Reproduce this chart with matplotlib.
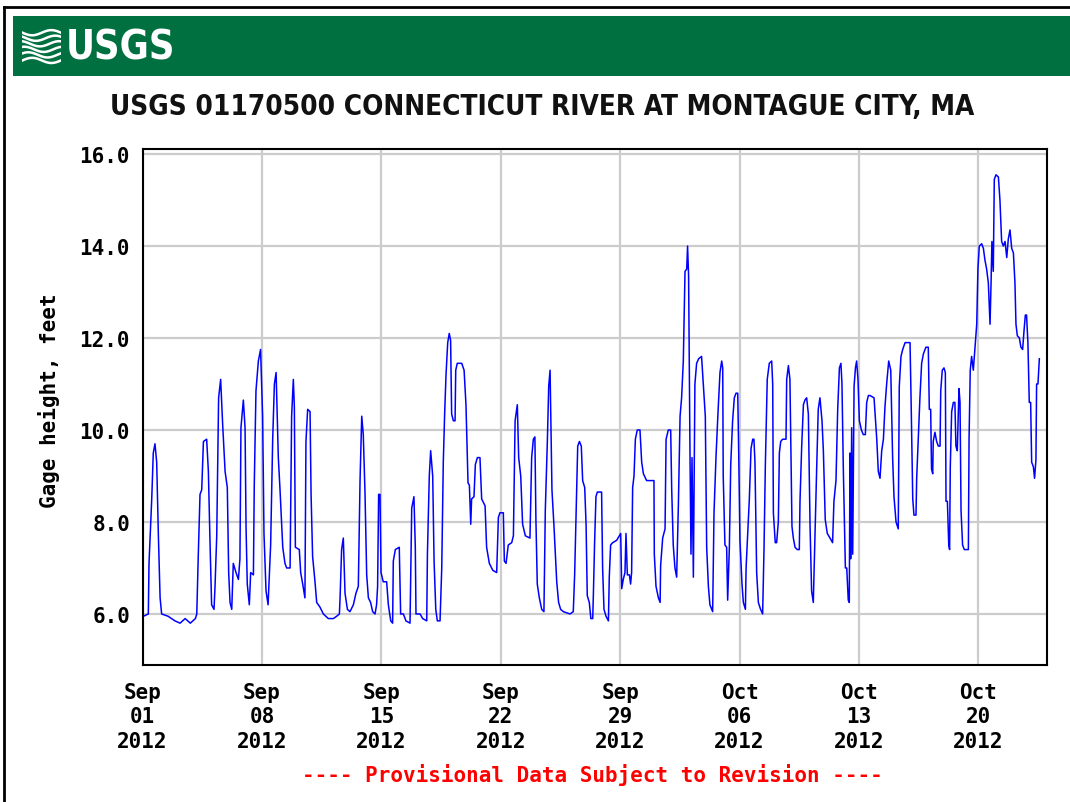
import numpy as np
import pandas as pd
import matplotlib
matplotlib.use("Agg")
import matplotlib.pyplot as plt
from matplotlib import font_manager
from matplotlib.patches import Rectangle
from matplotlib.lines import Line2D

# elapsed days since 2012-09-01 00:00 and gage height (feet)
days = [0.00, 0.05, 0.34, 0.38, 0.54, 0.63, 0.73, 0.83, 0.93, 1.03, 1.12, 1.5, 1.9, 2.2, 2.5, 2.8,
        3.1, 3.18, 3.27, 3.37, 3.47, 3.57, 3.76, 3.86, 3.96, 4.05, 4.19, 4.25, 4.35, 4.46, 4.58,
        4.70, 4.84, 4.97, 5.05, 5.13, 5.23, 5.32, 5.48, 5.62, 5.71, 5.77, 5.91, 6.01, 6.07, 6.14,
        6.26, 6.34, 6.50, 6.55, 6.65, 6.79, 6.92, 7.04, 7.12, 7.24, 7.36, 7.51, 7.63, 7.73, 7.83,
        7.96, 8.06, 8.22, 8.35, 8.45, 8.65,
        8.74, 8.84, 8.90, 8.96, 9.19, 9.27, 9.39, 9.52, 9.58, 9.68, 9.82, 9.88, 9.97, 10.11, 10.21,
        10.40, 10.60, 10.89, 11.19, 11.38, 11.54, 11.58, 11.67, 11.77, 11.87, 12.01, 12.16, 12.36,
        12.51, 12.65, 12.75, 12.85, 12.94, 13.04, 13.14, 13.24, 13.37, 13.49, 13.63, 13.72, 13.78,
        13.84, 13.92, 13.98, 14.11, 14.31, 14.41, 14.55, 14.66, 14.70, 14.82, 15.05, 15.13, 15.29,
        15.44, 15.68, 15.78, 15.91, 15.99, 16.03, 16.27, 16.42, 16.66, 16.70, 16.81, 16.89, 17.01,
        17.09, 17.19, 17.28, 17.44,
        17.54, 17.63, 17.71, 17.79, 17.89, 17.98, 18.06, 18.12, 18.22, 18.32, 18.36, 18.45, 18.71,
        18.85, 18.96, 19.08, 19.16, 19.24, 19.29, 19.43, 19.51, 19.63, 19.78, 19.88, 20.08, 20.17,
        20.33, 20.53, 20.76, 20.86, 20.95, 21.15, 21.21, 21.31, 21.44, 21.64, 21.74, 21.84, 21.97,
        22.05, 22.17, 22.28, 22.44, 22.71, 22.81, 22.91, 23.00, 23.06, 23.14, 23.26, 23.40, 23.53,
        23.61, 23.73, 23.81, 23.89, 24.00, 24.12, 24.28, 24.39, 24.51, 24.67, 25.06, 25.25, 25.33,
        25.41, 25.51, 25.61, 25.72, 25.80, 25.92, 26.00, 26.07, 26.19,
        26.28, 26.39, 26.43, 26.50, 26.58, 26.66, 26.91, 26.97, 27.05, 27.17, 27.31, 27.36, 27.44,
        27.56, 27.79, 27.95, 28.03, 28.09, 28.18, 28.28, 28.34, 28.42, 28.54, 28.61, 28.67, 28.73,
        28.81, 28.89, 29.00, 29.16, 29.26, 29.36, 29.55, 29.71, 29.98, 30.00, 30.10, 30.24, 30.34,
        30.37, 30.49, 30.63, 30.69, 30.82, 30.96, 31.02, 31.11, 31.21, 31.31, 31.41, 31.51, 31.60,
        31.70, 31.80, 31.90, 31.95, 32.01, 32.09, 32.15, 32.21, 32.29, 32.38, 32.48, 32.60, 32.77,
        32.87, 32.99, 33.07, 33.17, 33.26, 33.42, 33.50, 33.62, 33.73, 33.85, 33.95, 34.01, 34.04,
        34.14, 34.24, 34.30, 34.40, 34.48, 34.59, 34.69, 34.79, 34.89, 34.95, 35.02,
        35.14, 35.22, 35.34, 35.38, 35.45, 35.57, 35.67, 35.77, 35.84, 35.90, 36.00, 36.10, 36.23,
        36.35, 36.43, 36.51, 36.62, 36.74, 36.88, 36.94, 36.98, 37.09, 37.17, 37.27, 37.33, 37.41,
        37.52, 37.72, 37.76, 37.86, 37.95, 38.01, 38.07, 38.15, 38.25, 38.38, 38.50, 38.54, 38.64,
        38.74, 38.83, 38.93, 39.03, 39.13, 39.22, 39.32, 39.42, 39.52, 39.61, 39.71, 39.83, 39.91,
        40.02, 40.14, 40.30, 40.45, 40.53, 40.65, 40.75, 40.85, 40.94, 41.00, 41.08, 41.20, 41.28,
        41.37, 41.43, 41.47, 41.51, 41.57, 41.63, 41.71, 41.79, 41.86, 41.94, 42.02, 42.14, 42.25,
        42.37, 42.45, 42.55, 42.64, 42.88, 43.04, 43.13, 43.23, 43.33, 43.43, 43.52, 43.62, 43.74,
        43.86,
        43.97, 44.05, 44.17, 44.30, 44.36, 44.46, 44.56, 44.70, 44.99, 45.05, 45.15, 45.22, 45.34,
        45.38, 45.48, 45.57, 45.67, 45.77, 45.92, 46.06, 46.12, 46.20, 46.25, 46.32, 46.35, 46.45,
        46.55, 46.65, 46.75, 46.79, 46.88, 46.98, 47.06, 47.10, 47.18, 47.26, 47.31, 47.35, 47.43,
        47.53, 47.62, 47.68, 47.76, 47.86, 47.92, 47.98, 48.07, 48.17, 48.41, 48.45, 48.52, 48.60,
        48.70, 48.80, 48.90, 48.97, 49.05, 49.19, 49.29, 49.38, 49.48, 49.58, 49.68, 49.74, 49.79,
        49.87, 49.93, 50.03, 50.17, 50.26, 50.36, 50.46, 50.56, 50.66, 50.75, 50.85, 50.95, 51.05,
        51.14, 51.20, 51.28, 51.40, 51.49, 51.59, 51.67, 51.75, 51.82, 51.90, 51.98, 52.06, 52.12,
        52.22, 52.29, 52.37, 52.41, 52.49, 52.57]

gage = [5.9, 5.95, 6.0, 7.1, 8.5, 9.5, 9.7, 9.3, 7.7, 6.35, 6.0, 5.95, 5.85, 5.8, 5.9, 5.8,
        5.9, 6.0, 7.3, 8.6, 8.7, 9.75, 9.8, 9.1, 7.5, 6.2, 6.1, 6.6, 7.7, 10.7, 11.1,
        10.1, 9.1, 8.75, 6.9, 6.25, 6.1, 7.1, 6.9, 6.75, 7.2, 10.05, 10.65, 10.05, 7.85, 6.65,
        6.2, 6.9, 6.85, 8.8, 10.85, 11.5, 11.75, 10.3, 7.75, 6.5, 6.2, 7.5, 9.8, 11.0, 11.25,
        9.4, 8.7, 7.45, 7.1, 7.0, 7.0,
        10.3, 11.1, 10.5, 7.45, 7.4, 6.9, 6.65, 6.35, 9.75, 10.45, 10.4, 8.6, 7.25, 6.7, 6.25,
        6.15, 6.0, 5.9, 5.9, 5.95, 6.0, 6.35, 7.4, 7.65, 6.45, 6.1, 6.05, 6.2,
        6.45, 6.6, 8.9, 10.3, 9.9, 8.65, 6.85, 6.35, 6.25, 6.05, 6.0, 6.2, 6.6,
        8.6, 8.6, 6.9, 6.7, 6.7, 6.2, 5.85, 5.8, 7.15, 7.4, 7.45, 6.0, 6.0,
        5.85, 5.8, 8.3, 8.55, 7.45, 6.0, 6.0, 5.9, 5.85, 7.3, 9.0, 9.55, 9.0,
        7.15, 6.1, 5.85, 5.85,
        7.0, 9.3, 10.35, 11.2, 11.9, 12.1, 11.95, 10.35, 10.2, 10.2, 11.3, 11.45, 11.45,
        11.3, 10.55, 8.85, 8.8, 7.95, 8.5, 8.55, 9.25, 9.4, 9.4, 8.5, 8.35, 7.45,
        7.1, 6.95, 6.9, 8.1, 8.2, 8.2, 7.15, 7.1, 7.5, 7.55, 7.7, 10.2, 10.55,
        9.4, 9.0, 7.95, 7.7, 7.65, 9.4, 9.8, 9.85, 8.05, 6.65, 6.35, 6.1, 6.05,
        8.25, 9.75, 10.95, 11.3, 8.7, 7.9, 6.7, 6.25, 6.1, 6.05, 6.0, 6.05, 6.85,
        8.1, 9.65, 9.75, 9.65, 8.9, 8.75, 7.95, 6.4, 6.25,
        5.9, 5.9, 6.45, 7.55, 8.55, 8.65, 8.65, 7.0, 6.1, 5.95, 5.85, 6.8, 7.5,
        7.55, 7.6, 7.7, 7.75, 6.55, 6.75, 6.9, 7.75, 6.85, 6.85, 6.65, 6.9, 8.75,
        9.0, 9.8, 10.0, 10.0, 9.3, 9.05, 8.9, 8.9, 8.9, 7.3, 6.6, 6.35, 6.25,
        7.05, 7.65, 7.85, 9.8, 10.0, 10.0, 8.7, 7.5, 7.0, 6.8, 8.35, 10.3, 10.7,
        11.5, 13.45, 13.5, 14.0, 13.35, 9.55, 7.3, 9.4, 6.8, 11.0, 11.45, 11.55, 11.6,
        11.0, 10.3, 7.45, 6.6, 6.2, 6.05, 8.2, 9.45, 10.35, 11.25, 11.5, 11.35, 9.0,
        7.5, 7.45, 6.3, 7.45, 9.25, 10.2, 10.7, 10.8, 10.8, 9.45, 7.6,
        6.65, 6.25, 6.1, 7.0, 7.55, 8.5, 9.6, 9.8, 9.8, 9.3, 6.9, 6.25, 6.1,
        6.0, 7.4, 9.25, 11.1, 11.45, 11.5, 11.0, 8.2, 7.55, 7.55, 8.0, 9.5, 9.75,
        9.8, 9.8, 11.1, 11.4, 11.1, 9.55, 7.9, 7.65, 7.45, 7.4, 7.4, 8.45, 9.65,
        10.55, 10.65, 10.7, 10.35, 7.9, 6.5, 6.25, 7.75, 9.2, 10.45, 10.7, 10.2, 9.55,
        8.05, 7.75, 7.65, 7.55, 8.45, 8.9, 10.45, 11.35, 11.45, 11.0, 9.15, 7.0, 7.0,
        6.3, 6.25, 9.5, 7.2, 10.05, 7.3, 10.95, 11.35, 11.5, 11.1, 10.2, 10.0, 9.9,
        9.9, 10.6, 10.75, 10.75, 10.7, 9.8, 9.1, 8.95, 9.55, 9.8, 10.5, 11.0, 11.5,
        11.3,
        9.4, 8.55, 8.0, 7.85, 10.95, 11.6, 11.75, 11.9, 11.9, 10.7, 8.5, 8.15, 8.15,
        8.95, 9.85, 10.7, 11.45, 11.65, 11.8, 11.8, 10.45, 10.45, 9.15, 9.05, 9.75, 9.95,
        9.75, 9.65, 9.65, 10.85, 11.3, 11.35, 11.25, 8.45, 8.45, 7.5, 7.4, 9.2, 10.4,
        10.6, 10.6, 9.65, 9.55, 10.9, 10.6, 8.25, 7.5, 7.4, 7.4, 9.8, 11.3, 11.6,
        11.3, 11.8, 12.3, 13.5, 14.0, 14.05, 13.95, 13.7, 13.5, 13.2, 12.3, 13.2, 14.1,
        13.45, 15.45, 15.55, 15.5, 15.0, 14.1, 14.0, 14.1, 13.75, 14.15, 14.35, 13.95, 13.85,
        13.2, 12.3, 12.05, 12.0, 11.8, 11.75, 12.15, 12.5, 12.5, 11.9, 10.6, 10.6, 9.3,
        9.2, 8.95, 9.35, 11.0, 11.0, 11.55]

tick_dates = ["2012-09-01", "2012-09-08", "2012-09-15", "2012-09-22",
              "2012-09-29", "2012-10-06", "2012-10-13", "2012-10-20"]
y_ticks = [6.0, 8.0, 10.0, 12.0, 14.0, 16.0]

title = "USGS 01170500 CONNECTICUT RIVER AT MONTAGUE CITY, MA"
footer = "---- Provisional Data Subject to Revision ----"

start = pd.Timestamp("2012-09-01")
times = start + pd.to_timedelta(days, unit="D")


def pick_narrow():
    # look for a condensed bold sans; fall back to a plain one
    for fam, stretch in [("Liberation Sans Narrow", "normal"),
                         ("DejaVu Sans", "condensed")]:
        fp = font_manager.FontProperties(family=fam, weight="bold", stretch=stretch)
        try:
            path = font_manager.findfont(fp, fallback_to_default=False)
        except Exception:
            continue
        if "Narrow" in path or "Condensed" in path:
            return fp, True
    return font_manager.FontProperties(family="Roboto", weight="bold"), False


narrow_fp, is_narrow = pick_narrow()
mono = ["DejaVu Sans Mono"]
tsize = 15

fig = plt.figure(figsize=(10.7, 8.03), dpi=100)
fig.patch.set_facecolor("white")

# outer frame (top + left edges)
fig.add_artist(Line2D([0.004, 1.0], [0.990, 0.990], color="black", lw=2))
fig.add_artist(Line2D([0.004, 0.004], [0.0, 0.990], color="black", lw=2))

# green USGS banner
fig.add_artist(Rectangle((0.0121, 0.904), 0.99, 0.0747, facecolor="#017040",
                         edgecolor="none", zorder=-1))
logo_fp = narrow_fp.copy()
logo_fp.set_size(28.5 if is_narrow else 27)
fig.text(0.061, 0.940, "USGS", color="white", fontproperties=logo_fp,
         ha="left", va="center")
# little wave mark left of the logo text
lax = fig.add_axes([0.021, 0.918, 0.036, 0.046], zorder=5)
lax.set_axis_off()
t = np.linspace(0, 1, 50)
for k in range(6):
    lax.plot(t, 0.12 + 0.15 * k + 0.07 * np.sin(2 * np.pi * (t + 0.1 * k)),
             color="white", lw=1.8)
lax.set_xlim(0, 1)
lax.set_ylim(0, 1)

title_fp = narrow_fp.copy()
title_fp.set_size(20 if is_narrow else 19)
fig.text(0.5065, 0.867, title, fontproperties=title_fp,
         ha="center", va="center", color="#111111")

ax = fig.add_axes([0.1332, 0.1706, 0.8450, 0.6426])
ax.plot(times, gage, color="#0000ff", lw=1.1)

ax.set_xlim(pd.Timestamp("2012-09-01"), pd.Timestamp("2012-10-24"))
ax.set_ylim(4.89, 16.11)
ax.set_yticks(y_ticks)
ax.set_yticklabels(["%.1f" % v for v in y_ticks], family=mono, fontweight="bold",
                   fontsize=tsize)
xt = pd.to_datetime(tick_dates)
ax.set_xticks(xt)
ax.set_xticklabels([d.strftime("%b\n%d\n%Y") for d in xt], family=mono,
                   fontweight="bold", fontsize=tsize, linespacing=1.3)
ax.tick_params(length=0, pad=9)
ax.tick_params(axis="x", pad=12)
ax.grid(True, color="#cccccc", lw=1.6)
ax.set_axisbelow(True)
for s in ax.spines.values():
    s.set_linewidth(1.5)
    s.set_color("black")
ax.set_ylabel("Gage height, feet", family=mono, fontweight="bold", fontsize=tsize)
ax.yaxis.set_label_coords(-0.091, 0.515)

fig.text(0.5537, 0.035, footer, color="#ff0000", family=mono, fontweight="bold",
         fontsize=tsize, ha="center", va="center")

fig.savefig("out.png", dpi=100)
